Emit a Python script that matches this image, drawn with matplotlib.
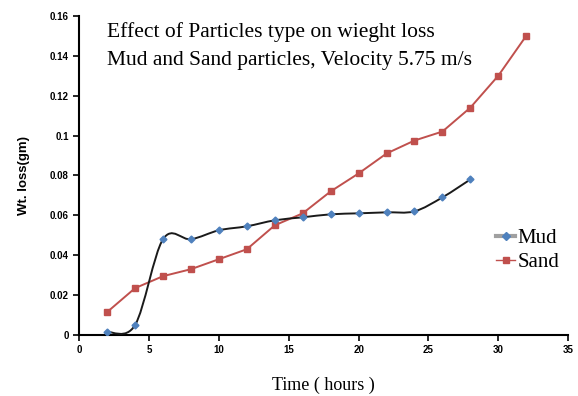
import matplotlib

matplotlib.use("Agg")
import matplotlib.pyplot as plt
from matplotlib.lines import Line2D
from matplotlib.patches import PathPatch
from matplotlib.path import Path

hours = [2, 4, 6, 8, 10, 12, 14, 16, 18, 20, 22, 24, 26, 28, 30, 32]
mud = [0.0015, 0.005, 0.048, 0.048, 0.0525, 0.0545, 0.0575, 0.059, 0.0605,
       0.061, 0.0615, 0.062, 0.069, 0.078]
sand = [0.0115, 0.0235, 0.0295, 0.033, 0.038, 0.043, 0.055, 0.061, 0.072,
        0.081, 0.091, 0.0975, 0.102, 0.114, 0.130, 0.150]

mud_hours = hours[:len(mud)]


def smooth_path(xs, ys, tension=0.5):
    # Excel-like smoothed line: Catmull-Rom segments as cubic Bezier curves
    verts = [(xs[0], ys[0])]
    codes = [Path.MOVETO]
    n = len(xs)
    for i in range(n - 1):
        x0, y0 = (xs[i - 1], ys[i - 1]) if i > 0 else (xs[i], ys[i])
        x1, y1 = xs[i], ys[i]
        x2, y2 = xs[i + 1], ys[i + 1]
        x3, y3 = (xs[i + 2], ys[i + 2]) if i + 2 < n else (x2, y2)
        c1 = (x1 + (x2 - x0) * tension / 3, y1 + (y2 - y0) * tension / 3)
        c2 = (x2 - (x3 - x1) * tension / 3, y2 - (y3 - y1) * tension / 3)
        verts += [c1, c2, (x2, y2)]
        codes += [Path.CURVE4] * 3
    return Path(verts, codes)


fig = plt.figure(figsize=(5.78, 3.96), dpi=100)
ax = fig.add_axes([0.137, 0.154, 0.846, 0.806])

ax.plot(hours, sand, color="#c0504d", linewidth=1.4, marker="s",
        markersize=5, label="Sand", zorder=2)
ax.add_patch(PathPatch(smooth_path(mud_hours, mud, tension=0.5), facecolor="none",
                       edgecolor="#1a1a1a", linewidth=1.4, zorder=3))
ax.plot(mud_hours, mud, linestyle="none", marker="D", markersize=3.5,
        color="#4f81bd", zorder=4)

ax.set_xlim(0, 35)
ax.set_ylim(0, 0.16)
ax.set_xticks(range(0, 36, 5))
ax.set_yticks([0, 0.02, 0.04, 0.06, 0.08, 0.1, 0.12, 0.14, 0.16])
ax.set_yticklabels(["0", "0.02", "0.04", "0.06", "0.08", "0.1", "0.12", "0.14", "0.16"])
for side in ("top", "right"):
    ax.spines[side].set_visible(False)
for side in ("left", "bottom"):
    ax.spines[side].set_linewidth(1.5)
ax.tick_params(direction="out", length=4, width=1.2, labelsize=7)
for lbl in ax.get_xticklabels() + ax.get_yticklabels():
    lbl.set_fontweight("bold")
    lbl.set_family("Liberation Sans")

ax.set_xlabel("Time ( hours )", family="Liberation Serif", fontsize=13, labelpad=15)
ax.set_ylabel("Wt. loss(gm)", family="Liberation Sans", fontweight="bold",
              fontsize=9.5, labelpad=14)

ax.text(0.057, 0.98, "Effect of Particles type on wieght loss\n"
        "Mud and Sand particles, Velocity 5.75 m/s",
        transform=ax.transAxes, family="Liberation Serif", fontsize=15.5,
        va="top", ha="left", linespacing=1.65)

handles = [
    Line2D([], [], color="#a0a0a0", linewidth=3, marker="D", markersize=4,
           markerfacecolor="#4f81bd", markeredgecolor="#4f81bd"),
    Line2D([], [], color="#c0504d", linewidth=1, marker="s", markersize=4),
]
ax.legend(handles, ["Mud", "Sand"], loc="center left", bbox_to_anchor=(0.815, 0.265),
          frameon=False, prop={"family": "Liberation Serif", "size": 15},
          handlelength=0.9, handletextpad=0.1, labelspacing=0.2)

fig.savefig("out.png", dpi=100)
